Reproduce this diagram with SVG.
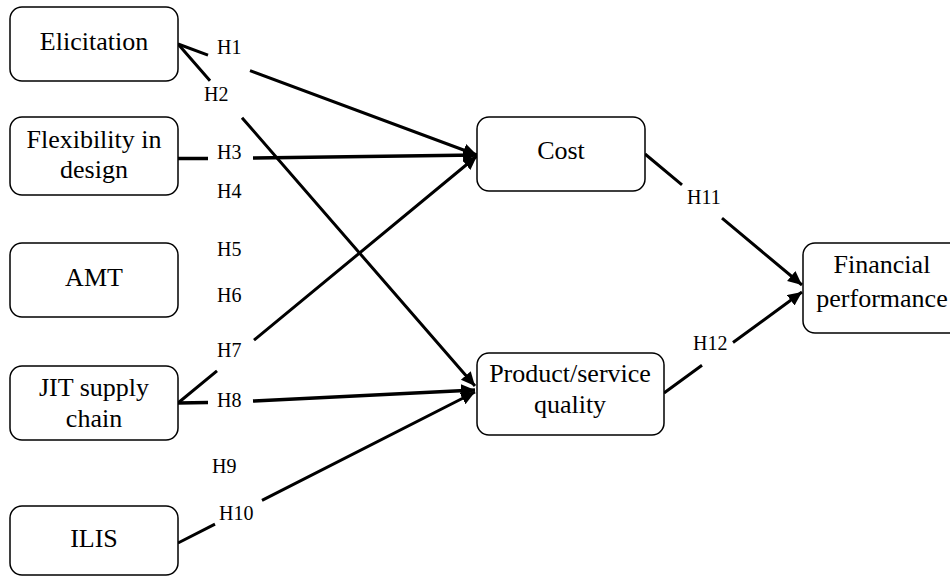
<svg xmlns="http://www.w3.org/2000/svg" width="950" height="577" viewBox="0 0 950 577">
<style>
.box{fill:#fff;stroke:#000;stroke-width:1.5}
.t{font-size:26px;fill:#000;text-anchor:middle}
.h{font-size:20px;fill:#000}
.c{fill:none;stroke:#000;stroke-width:3;marker-end:url(#ah)}
.c2{stroke-width:3.6}
</style>
<defs>
<marker id="ah" markerUnits="userSpaceOnUse" markerWidth="16" markerHeight="14" refX="14" refY="6.5" orient="auto">
<path d="M0,0 L14,6.5 L0,13 z" fill="#000"/>
</marker>
</defs>
<rect width="950" height="577" fill="#fff"/>
<g id="connectors">
<path class="c" d="M178,44 L208,55.1 M250,70.7 L477,155"/>
<path class="c" d="M178,44 L210,80.8 M242,117.7 L475,386"/>
<path class="c c2" d="M178,158.5 L208,158.5 M253,158 L477,155"/>
<path class="c" d="M178,403 L217,370.8 M254,340.2 L477,156"/>
<path class="c c2" d="M178,403 L208,402.5 M253,401 L475,390"/>
<path class="c" d="M178,543 L215,524.2 M262,500.3 L475,392"/>
<path class="c" d="M645,154 L682,184.9 M722,218.2 L802,285"/>
<path class="c" d="M664,393 L702,365.2 M733,342.5 L802,292"/>
</g>
<g id="labels" font-family="'Liberation Serif', 'DejaVu Serif', serif">
<text class="h" x="217" y="54">H1</text>
<text class="h" x="204" y="101">H2</text>
<text class="h" x="217" y="159">H3</text>
<text class="h" x="217" y="198">H4</text>
<text class="h" x="217" y="256">H5</text>
<text class="h" x="217" y="302">H6</text>
<text class="h" x="217" y="357">H7</text>
<text class="h" x="217" y="407">H8</text>
<text class="h" x="212" y="473">H9</text>
<text class="h" x="219" y="520">H10</text>
<text class="h" x="687" y="204">H11</text>
<text class="h" x="693" y="350">H12</text>
</g>
<g id="nodes" font-family="'Liberation Serif', 'DejaVu Serif', serif">
<g id="elicitation"><rect class="box" x="10" y="7" width="168" height="74" rx="12"/><text class="t" x="94" y="50">Elicitation</text></g>
<g id="flexibility"><rect class="box" x="10" y="117" width="168" height="78" rx="12"/><text class="t" x="94" y="148">Flexibility in</text><text class="t" x="94" y="178">design</text></g>
<g id="amt"><rect class="box" x="10" y="243" width="168" height="74" rx="12"/><text class="t" x="94" y="286">AMT</text></g>
<g id="jit"><rect class="box" x="10" y="366" width="168" height="74" rx="12"/><text class="t" x="94" y="396">JIT supply</text><text class="t" x="94" y="427">chain</text></g>
<g id="ilis"><rect class="box" x="10" y="506" width="168" height="69" rx="12"/><text class="t" x="94" y="547">ILIS</text></g>
<g id="cost"><rect class="box" x="477" y="117" width="168" height="74" rx="12"/><text class="t" x="561" y="159">Cost</text></g>
<g id="quality"><rect class="box" x="477" y="353" width="187" height="82" rx="12"/><text class="t" x="570" y="382">Product/service</text><text class="t" x="570" y="413">quality</text></g>
<g id="financial"><rect class="box" x="803" y="243" width="158" height="90" rx="12"/><text class="t" x="882" y="273">Financial</text><text class="t" x="882" y="307">performance</text></g>
</g>
</svg>
